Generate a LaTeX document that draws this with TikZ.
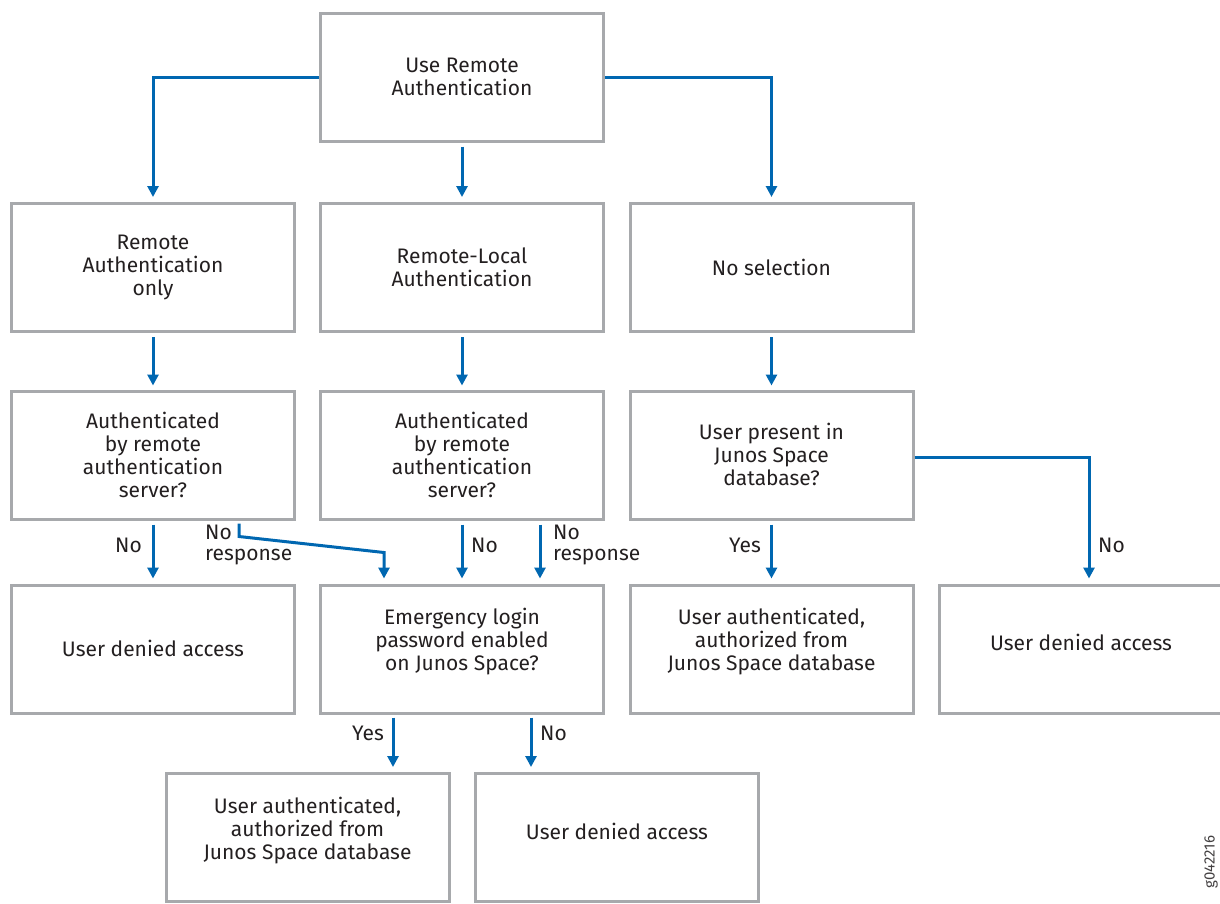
\documentclass[tikz,border=0pt]{standalone}
\usepackage{fontspec}
\setmainfont{Fira Sans}
\usetikzlibrary{arrows.meta,calc}
\definecolor{boxgray}{HTML}{A7A9AC}
\definecolor{flowblue}{HTML}{0067B1}
\definecolor{inktext}{HTML}{231F20}
\begin{document}
\begin{tikzpicture}[x=1pt,y=-1pt,
 box/.style={draw=boxgray,line width=3pt,minimum width=283pt,minimum height=128pt,inner sep=0pt},
 txt/.style={align=center,font=\fontsize{21}{23}\selectfont,text=inktext,inner sep=0pt},
 lbl/.style={align=left,font=\fontsize{21}{21}\selectfont,text=inktext,inner sep=0pt},
 flow/.style={draw=flowblue,line width=3pt,-{Triangle[length=11pt,width=11pt]}},
]
\useasboundingbox (0,0) rectangle (1220,903);
% boxes
\node[box] (top) at (462,77) {};
\node[box] (r2a) at (153,267.5) {};
\node[box] (r2b) at (462,267.5) {};
\node[box] (r2c) at (771.5,267.5) {};
\node[box] (r3a) at (153,455) {};
\node[box] (r3b) at (462,455) {};
\node[box] (r3c) at (771.5,455) {};
\node[box] (r4a) at (153,649) {};
\node[box] (r4b) at (462,649) {};
\node[box] (r4c) at (771.5,649) {};
\node[box] (r4d) at (1081,649) {};
\node[box] (r5a) at (307.5,837.5) {};
\node[box] (r5b) at (617,837.5) {};
% texts
\node[txt] (ttop) at (462,77) {Use Remote\\Authentication};
\node[txt] (t2a) at (153,267) {Remote\\Authentication\\only};
\node[txt] (t2b) at (462,267) {Remote-Local\\Authentication};
\node[txt] (t2c) at (771.5,267) {No selection};
\node[txt] (t3a) at (153,455) {Authenticated\\by remote\\authentication\\server?};
\node[txt] (t3b) at (462,455) {Authenticated\\by remote\\authentication\\server?};
\node[txt] (t3c) at (771.5,454) {User present in\\Junos Space\\database?};
\node[txt] (t4a) at (153,648) {User denied access};
\node[txt] (t4b) at (462,642) {Emergency login\\password enabled\\on Junos Space?};
\node[txt] (t4c) at (771.5,642) {User authenticated,\\authorized from\\Junos Space database};
\node[txt] (t4d) at (1081,642) {User denied access};
\node[txt] (t5a) at (307.5,831) {User authenticated,\\authorized from\\Junos Space database};
\node[txt] (t5b) at (617,831) {User denied access};
% connectors
\draw[flow,shorten >=5pt] (top.west) -| (r2a.north);
\draw[flow,shorten <=4pt,shorten >=5pt] (top.south) -- (r2b.north);
\draw[flow,shorten >=5pt] (top.east) -| (r2c.north);
\draw[flow,shorten <=4pt,shorten >=4pt] (r2a.south) -- (r3a.north);
\draw[flow,shorten <=4pt,shorten >=4pt] (r2b.south) -- (r3b.north);
\draw[flow,shorten <=4pt,shorten >=4pt] (r2c.south) -- (r3c.north);
\draw[flow,shorten <=4pt,shorten >=5pt] (r3a.south) -- (r4a.north);
\draw[flow,shorten >=5pt] ($(r3a.south)+(86,3)$) -- ($(r3a.south)+(86,16)$) -- ($(r4b.north)+(-78,-31)$) -- ($(r4b.north)+(-78,0)$);
\draw[flow,shorten <=4pt,shorten >=5pt] (r3b.south) -- (r4b.north);
\draw[flow,shorten <=4pt,shorten >=5pt] ($(r3b.south)+(78,0)$) -- ($(r4b.north)+(78,0)$);
\draw[flow,shorten <=4pt,shorten >=5pt] (r3c.south) -- (r4c.north);
\draw[flow,shorten >=5pt] ($(r3c.east)+(0,2)$) -| ($(r4d.north)+(8,0)$);
\draw[flow,shorten <=3pt,shorten >=5pt] ($(r4b.south)+(-69,0)$) -- ($(r5a.north)+(85.5,0)$);
\draw[flow,shorten <=3pt,shorten >=5pt] ($(r4b.south)+(69,0)$) -- ($(r5b.north)+(-86,0)$);
% labels
\node[lbl,anchor=east] (l1) at (142,545) {No};
\node[lbl,anchor=west] (l2) at (205,545) {No\\response};
\node[lbl,anchor=west] (l3) at (471,545) {No};
\node[lbl,anchor=west] (l4) at (553,545) {No\\response};
\node[lbl,anchor=east] (l5) at (761,545) {Yes};
\node[lbl,anchor=west] (l6) at (1098,545) {No};
\node[lbl,anchor=east] (l7) at (384,733) {Yes};
\node[lbl,anchor=west] (l8) at (540,733) {No};
\node[rotate=90,font=\fontsize{15}{15}\selectfont,text=inktext!85,inner sep=0pt] (gid) at (1211,862) {g042216};
\end{tikzpicture}
\end{document}
